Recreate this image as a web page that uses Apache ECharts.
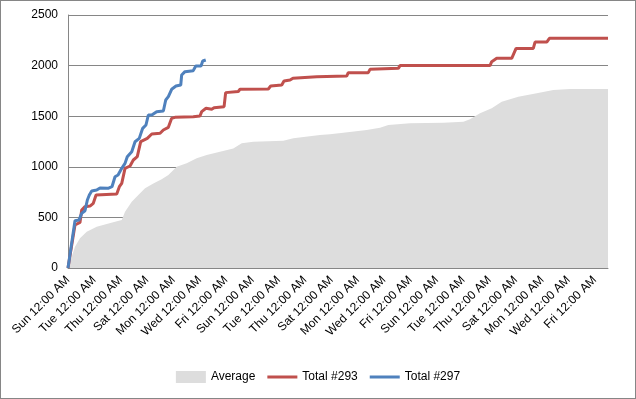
<!DOCTYPE html>
<html>
<head>
<meta charset="utf-8">
<title></title>
<script src="https://cdn.jsdelivr.net/npm/echarts@6/dist/echarts.min.js"></script>
<style>
    body { margin: 0; background: #fff; }
    #chart { width: 636px; height: 399px; box-sizing: border-box; border: 1px solid #868686; }
</style>
</head>
<body>
<div id="chart"></div>
<script>
// x values are days since the first Sunday 12:00 AM
var dayNames = ["Sun", "Mon", "Tue", "Wed", "Thu", "Fri", "Sat"];
var yTicks = [0, 500, 1000, 1500, 2000, 2500];

var avgDays = [0, 0.28, 0.53, 0.91, 1.42, 2.18, 2.94, 3.57, 4.08, 4.33, 4.84, 5.34, 5.85, 6.48, 7.11, 7.62, 8.25, 9.01, 9.77, 10.53, 11.54, 12.55, 13.19, 14.07, 16.35, 17.11, 19.13, 19.89, 20.9, 22.68, 23.69, 24.32, 25.97, 28.5, 30.02, 30.52, 31.28, 32.17, 32.93, 34.19, 35.59, 36.85, 38.12, 41];
var avgValues = [0, 112, 211, 293, 359, 408, 435, 457, 474, 556, 655, 721, 787, 836, 876, 919, 1001, 1034, 1084, 1116, 1149, 1182, 1232, 1248, 1258, 1281, 1314, 1321, 1337, 1364, 1386, 1413, 1430, 1436, 1446, 1469, 1528, 1578, 1644, 1693, 1726, 1759, 1769, 1769];

var t293Days = [0, 0.53, 0.66, 0.91, 1.04, 1.29, 1.67, 1.92, 2.13, 3.7, 3.9, 4.08, 4.33, 4.71, 4.96, 5.26, 5.52, 6.02, 6.36, 6.99, 7.24, 7.62, 7.87, 8.12, 9.51, 10.02, 10.15, 10.48, 10.91, 11.09, 11.85, 11.97, 12.93, 13.06, 15.21, 15.39, 16.23, 16.4, 16.86, 17.08, 18.88, 21.16, 21.28, 22.8, 22.93, 25.08, 25.21, 32.04, 32.17, 32.55, 33.69, 34.02, 35.33, 35.46, 36.35, 36.55, 41];
var t293Values = [0, 425, 441, 450, 573, 606, 612, 639, 721, 731, 803, 836, 985, 1008, 1067, 1100, 1248, 1281, 1324, 1331, 1364, 1390, 1479, 1489, 1495, 1502, 1545, 1578, 1568, 1584, 1594, 1733, 1744, 1766, 1769, 1798, 1808, 1848, 1857, 1875, 1890, 1897, 1930, 1930, 1963, 1973, 2000, 2000, 2039, 2072, 2072, 2170, 2170, 2233, 2233, 2270, 2270];

var t297Days = [0, 0.53, 0.84, 1.04, 1.29, 1.47, 1.62, 1.8, 2.18, 2.43, 3.04, 3.34, 3.57, 3.8, 4.08, 4.33, 4.5, 4.84, 5.09, 5.41, 5.67, 5.92, 6.1, 6.36, 6.73, 7.24, 7.42, 7.62, 7.87, 8.2, 8.56, 8.63, 8.88, 9.51, 9.7, 10.1, 10.23, 10.46];
var t297Values = [0, 467, 475, 540, 566, 672, 721, 760, 770, 790, 787, 803, 902, 919, 985, 1034, 1100, 1149, 1248, 1281, 1380, 1413, 1512, 1512, 1545, 1551, 1660, 1693, 1766, 1798, 1808, 1907, 1940, 1950, 1996, 1996, 2045, 2055];

function pairs(xs, ys) {
    var out = [];
    for (var i = 0; i < xs.length; i++) out.push([xs[i], ys[i]]);
    return out;
}

// thin bar icon for the line series, with empty corners so the box stays 30x12
var lineIcon = "path://M0,0L0.01,0L0,0.01Z M0,4.5L30,4.5L30,7.5L0,7.5Z M29.99,12L30,12L30,11.99Z";

var chart = echarts.init(document.getElementById("chart"));
chart.setOption({
    animation: false,
    textStyle: { fontFamily: "Liberation Sans", color: "#000" },
    grid: { left: 67, right: 27, top: 14, bottom: 130 },
    legend: {
        bottom: 10,
        left: "center",
        itemGap: 12,
        itemWidth: 30,
        itemHeight: 12,
        textStyle: { fontSize: 12, color: "#000" },
        data: [
            { name: "Average", icon: "rect" },
            { name: "Total #293", icon: lineIcon },
            { name: "Total #297", icon: lineIcon }
        ]
    },
    xAxis: {
        type: "value",
        min: 0,
        max: 41,
        interval: 2,
        splitLine: { show: false },
        axisTick: { show: false },
        axisLine: { lineStyle: { color: "#868686" } },
        axisLabel: {
            rotate: 45,
            fontSize: 12,
            color: "#000",
            showMaxLabel: false,
            margin: 10,
            formatter: function (v) { return dayNames[v % 7] + " 12:00 AM"; }
        }
    },
    yAxis: {
        type: "value",
        min: yTicks[0],
        max: yTicks[yTicks.length - 1],
        interval: 500,
        axisLine: { show: true, lineStyle: { color: "#868686" } },
        axisTick: { show: false },
        splitLine: { lineStyle: { color: "#868686" } },
        axisLabel: { fontSize: 12, color: "#000", margin: 10, formatter: function (v) { return String(v); } }
    },
    series: [
        {
            name: "Average",
            type: "line",
            symbol: "none",
            data: pairs(avgDays, avgValues),
            lineStyle: { width: 0, color: "#dddddd" },
            itemStyle: { color: "#dddddd" },
            areaStyle: { color: "#dddddd", opacity: 1 }
        },
        {
            name: "Total #293",
            type: "line",
            symbol: "none",
            data: pairs(t293Days, t293Values),
            lineStyle: { width: 3, color: "#c0504d" },
            itemStyle: { color: "#c0504d" }
        },
        {
            name: "Total #297",
            type: "line",
            symbol: "none",
            data: pairs(t297Days, t297Values),
            lineStyle: { width: 3, color: "#4f81bd" },
            itemStyle: { color: "#4f81bd" }
        }
    ]
});
</script>
</body>
</html>
